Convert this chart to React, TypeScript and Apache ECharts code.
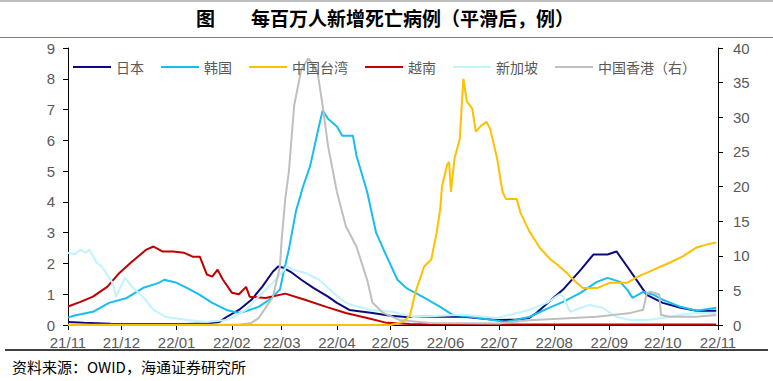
import React, { useEffect, useRef } from "react";
import * as echarts from "echarts";

const monthStarts = ["2021-11-01","2021-12-01","2022-01-01","2022-02-01","2022-03-01","2022-04-01","2022-05-01","2022-06-01","2022-07-01","2022-08-01","2022-09-01","2022-10-01","2022-11-01"];
const monthLabels = ["21/11","21/12","22/01","22/02","22/03","22/04","22/05","22/06","22/07","22/08","22/09","22/10","22/11"];

const seriesNames = ["日本", "韩国", "中国台湾", "越南", "新加坡", "中国香港（右）"];
const seriesColors = ["#0B0B80", "#19BDF0", "#FFC000", "#C00000", "#BFF3FF", "#BFBFBF"];

const japan: [string, number][] = [
  ["2021-11-01",0.10],["2021-11-10",0.07],["2021-11-25",0.04],["2021-12-15",0.03],["2022-01-05",0.03],["2022-01-18",0.05],["2022-01-25",0.10],
  ["2022-01-29",0.26],["2022-02-05",0.49],["2022-02-12",0.82],["2022-02-18",1.24],["2022-02-24",1.73],["2022-02-27",1.90],["2022-03-02",1.86],
  ["2022-03-06",1.73],["2022-03-12",1.47],["2022-03-19",1.20],["2022-03-27",0.92],["2022-04-01",0.72],["2022-04-08",0.49],["2022-04-21",0.39],
  ["2022-05-01",0.30],["2022-05-10",0.26],["2022-05-23",0.27],["2022-06-11",0.27],["2022-06-30",0.16],["2022-07-11",0.18],["2022-07-18",0.23],
  ["2022-07-22",0.39],["2022-07-30",0.80],["2022-08-06",1.15],["2022-08-16",1.80],["2022-08-23",2.29],["2022-08-31",2.29],["2022-09-05",2.39],
  ["2022-09-11",1.90],["2022-09-17",1.40],["2022-09-22",0.98],["2022-10-01",0.72],["2022-10-11",0.56],["2022-10-20",0.46],["2022-10-31",0.46]
];

const korea: [string, number][] = [
  ["2021-11-01",0.24],["2021-11-04",0.30],["2021-11-15",0.43],["2021-11-24",0.72],["2021-12-04",0.88],["2021-12-13",1.20],["2021-12-22",1.37],
  ["2021-12-25",1.47],["2022-01-01",1.37],["2022-01-07",1.20],["2022-01-14",0.98],["2022-01-21",0.72],["2022-01-29",0.49],["2022-02-05",0.39],
  ["2022-02-11",0.49],["2022-02-16",0.59],["2022-02-22",0.82],["2022-02-28",1.15],["2022-03-02",1.70],["2022-03-05",2.45],["2022-03-09",3.70],
  ["2022-03-13",4.50],["2022-03-17",5.17],["2022-03-22",6.48],["2022-03-24",6.97],["2022-03-27",6.70],["2022-04-01",6.45],["2022-04-04",6.15],
  ["2022-04-10",6.15],["2022-04-12",5.50],["2022-04-18",4.32],["2022-04-23",3.00],["2022-04-29",2.22],["2022-05-05",1.47],["2022-05-10",1.20],
  ["2022-05-19",0.92],["2022-05-29",0.59],["2022-06-05",0.33],["2022-06-20",0.23],["2022-07-05",0.10],["2022-07-18",0.26],["2022-07-30",0.58],
  ["2022-08-06",0.75],["2022-08-16",1.05],["2022-08-25",1.40],["2022-08-31",1.53],["2022-09-07",1.40],["2022-09-11",1.15],["2022-09-14",0.88],
  ["2022-09-20",1.08],["2022-09-26",0.98],["2022-10-01",0.82],["2022-10-11",0.59],["2022-10-20",0.46],["2022-10-31",0.56]
];

const taiwan: [string, number][] = [
  ["2021-11-01",0],["2022-05-01",0],["2022-05-08",0.10],["2022-05-12",0.30],["2022-05-15",1.05],["2022-05-20",1.90],["2022-05-24",2.13],
  ["2022-05-27",3.00],["2022-05-29",3.76],["2022-05-30",4.50],["2022-06-02",5.23],["2022-06-03",5.30],["2022-06-04",4.32],["2022-06-06",5.40],
  ["2022-06-09",6.05],["2022-06-11",8.00],["2022-06-13",7.26],["2022-06-16",7.03],["2022-06-18",6.28],["2022-06-21",6.48],["2022-06-24",6.60],
  ["2022-06-26",6.38],["2022-06-30",5.40],["2022-07-03",4.32],["2022-07-05",4.09],["2022-07-11",4.09],["2022-07-13",3.66],["2022-07-18",3.05],
  ["2022-07-24",2.50],["2022-07-30",2.13],["2022-08-03",1.95],["2022-08-08",1.70],["2022-08-10",1.57],["2022-08-17",1.20],["2022-08-25",1.20],
  ["2022-09-01",1.37],["2022-09-11",1.37],["2022-09-17",1.57],["2022-09-26",1.80],["2022-10-05",2.03],["2022-10-12",2.22],["2022-10-20",2.52],
  ["2022-10-26",2.62],["2022-10-31",2.68]
];

const vietnam: [string, number][] = [
  ["2021-11-01",0.60],["2021-11-08",0.75],["2021-11-15",0.92],["2021-11-23",1.24],["2021-11-30",1.70],["2021-12-07",2.06],["2021-12-15",2.45],
  ["2021-12-19",2.55],["2021-12-24",2.39],["2021-12-30",2.39],["2022-01-05",2.35],["2022-01-10",2.22],["2022-01-14",2.22],["2022-01-18",1.64],
  ["2022-01-21",1.57],["2022-01-24",1.80],["2022-01-27",1.47],["2022-02-01",1.05],["2022-02-05",1.00],["2022-02-09",1.24],["2022-02-11",0.92],
  ["2022-02-20",0.88],["2022-03-03",1.02],["2022-03-14",0.82],["2022-03-26",0.59],["2022-04-06",0.39],["2022-04-18",0.23],["2022-04-29",0.07],
  ["2022-05-12",0.03],["2022-07-01",0.02],["2022-10-31",0.02]
];

const singapore: [string, number][] = [
  ["2021-11-01",2.35],["2021-11-05",2.30],["2021-11-08",2.45],["2021-11-11",2.35],["2021-11-13",2.45],["2021-11-17",2.03],["2021-11-20",1.90],
  ["2021-11-26",1.37],["2021-11-28",0.92],["2021-12-03",1.53],["2021-12-07",1.24],["2021-12-13",0.92],["2021-12-19",0.49],["2021-12-26",0.26],
  ["2022-01-07",0.16],["2022-01-18",0.10],["2022-01-29",0.16],["2022-02-09",0.49],["2022-02-16",0.92],["2022-02-24",1.37],["2022-03-04",1.90],
  ["2022-03-07",1.80],["2022-03-14",1.70],["2022-03-22",1.47],["2022-03-30",1.05],["2022-04-06",0.72],["2022-04-13",0.59],["2022-04-20",0.49],
  ["2022-05-02",0.43],["2022-05-14",0.26],["2022-06-11",0.33],["2022-06-30",0.23],["2022-07-18",0.49],["2022-07-28",0.72],["2022-08-04",1.00],
  ["2022-08-06",0.92],["2022-08-10",0.43],["2022-08-16",0.56],["2022-08-21",0.65],["2022-08-28",0.56],["2022-09-05",0.26],["2022-09-13",0.16],
  ["2022-09-22",0.16],["2022-10-01",0.23],["2022-10-11",0.33],["2022-10-20",0.39],["2022-10-31",0.39]
];

const hongkong: [string, number][] = [
  ["2021-11-01",0.05],["2022-02-05",0.05],["2022-02-12",0.30],["2022-02-16",1.00],["2022-02-18",1.75],["2022-02-24",4.00],["2022-02-28",8.40],
  ["2022-03-01",12.4],["2022-03-03",18.2],["2022-03-05",22.1],["2022-03-08",31.7],["2022-03-12",36.9],["2022-03-16",38.5],["2022-03-21",36.7],
  ["2022-03-24",31.7],["2022-03-27",25.9],["2022-04-01",19.2],["2022-04-06",14.3],["2022-04-12",11.3],["2022-04-18",6.5],["2022-04-21",3.2],
  ["2022-04-27",1.75],["2022-05-06",0.73],["2022-05-23",0.30],["2022-07-01",0.20],["2022-07-18",0.70],["2022-08-25",1.20],["2022-09-13",1.75],
  ["2022-09-20",2.20],["2022-09-22",4.60],["2022-09-24",4.80],["2022-09-29",4.40],["2022-09-30",1.45],["2022-10-05",1.20],["2022-10-20",1.20],
  ["2022-10-31",1.45]
];

const BASE = Date.UTC(2021, 10, 1);
function dayIndex(s: string): number {
  const [y, m, d] = s.split("-").map(Number);
  return Math.round((Date.UTC(y, m - 1, d) - BASE) / 86400000);
}

const monthDays = monthStarts.map(dayIndex);

export default function App() {
  const ref = useRef<HTMLDivElement>(null);
  useEffect(() => {
    document.body.style.margin = "0";
    const chart = echarts.init(ref.current!, null, { renderer: "svg" });
    const allData = [japan, korea, taiwan, vietnam, singapore, hongkong];
    const series = allData.map((arr, i) => ({
      name: seriesNames[i],
      type: "line",
      yAxisIndex: i === 5 ? 1 : 0,
      data: arr.map(([d, v]) => [dayIndex(d), v]),
      showSymbol: false,
      symbol: "none",
      lineStyle: { width: 2, color: seriesColors[i] },
      itemStyle: { color: seriesColors[i] },
      z: i === 2 ? 4 : 2,
    }));
    const axisFont = "Liberation Sans, Arial, sans-serif";
    chart.setOption({
      animation: false,
      backgroundColor: "#fff",
      grid: { left: 68, right: 55, top: 48, bottom: 56, containLabel: false },
      legend: {
        left: 68,
        top: 55,
        icon: "rect",
        itemWidth: 38,
        itemHeight: 2,
        itemGap: 17,
        textStyle: { fontSize: 14, color: "#595959", fontFamily: "Noto Sans CJK SC" },
        data: seriesNames,
      },
      xAxis: {
        type: "value",
        min: 0,
        max: 365,
        axisLine: { show: true, onZero: false, lineStyle: { color: "#000", width: 1 } },
        axisTick: { show: true, customValues: monthDays, length: 5, lineStyle: { color: "#000" } },
        axisLabel: {
          customValues: monthDays,
          showMinLabel: true,
          showMaxLabel: true,
          formatter: (v: number) => {
            const idx = monthDays.indexOf(Math.round(v));
            return idx >= 0 ? monthLabels[idx] : "";
          },
          color: "#595959",
          fontSize: 15,
          margin: 10,
          fontFamily: axisFont,
        },
        splitLine: { show: false },
      },
      yAxis: [
        {
          type: "value",
          min: 0,
          max: 9,
          interval: 1,
          position: "left",
          axisLine: { show: true, lineStyle: { color: "#000" } },
          axisTick: { show: true, length: 5, lineStyle: { color: "#000" } },
          axisLabel: { color: "#595959", fontSize: 15, margin: 13, fontFamily: axisFont },
          splitLine: { show: false },
        },
        {
          type: "value",
          min: 0,
          max: 40,
          interval: 5,
          position: "right",
          axisLine: { show: true, lineStyle: { color: "#000" } },
          axisTick: { show: true, length: 5, lineStyle: { color: "#000" } },
          axisLabel: { color: "#595959", fontSize: 15, margin: 15, fontFamily: axisFont },
          splitLine: { show: false },
        },
      ],
      graphic: [
        { type: "line", shape: { x1: 0, y1: 1, x2: 773, y2: 1 }, style: { stroke: "#7f7f7f", lineWidth: 1 } },
        { type: "line", shape: { x1: 0, y1: 37.5, x2: 773, y2: 37.5 }, style: { stroke: "#7f7f7f", lineWidth: 1 } },
        { type: "line", shape: { x1: 5, y1: 350, x2: 768, y2: 350 }, style: { stroke: "#000", lineWidth: 1.5 } },
        {
          type: "text",
          left: 196,
          top: 8,
          style: { text: "图", fontSize: 19, fontWeight: "bold", fill: "#000", fontFamily: "Noto Sans CJK SC" },
        },
        {
          type: "text",
          left: 251,
          top: 8,
          style: { text: "每百万人新增死亡病例（平滑后，例）", fontSize: 19, fontWeight: "bold", fill: "#000", fontFamily: "Noto Sans CJK SC" },
        },
        {
          type: "text",
          left: 12,
          top: 359,
          style: { text: "资料来源：OWID，海通证券研究所", fontSize: 15, fill: "#000", fontFamily: "Noto Sans CJK SC" },
        },
      ],
      series,
    });
    return () => chart.dispose();
  }, []);
  return <div ref={ref} style={{ position: "absolute", left: 0, top: 0, width: 773, height: 381 }} />;
}
